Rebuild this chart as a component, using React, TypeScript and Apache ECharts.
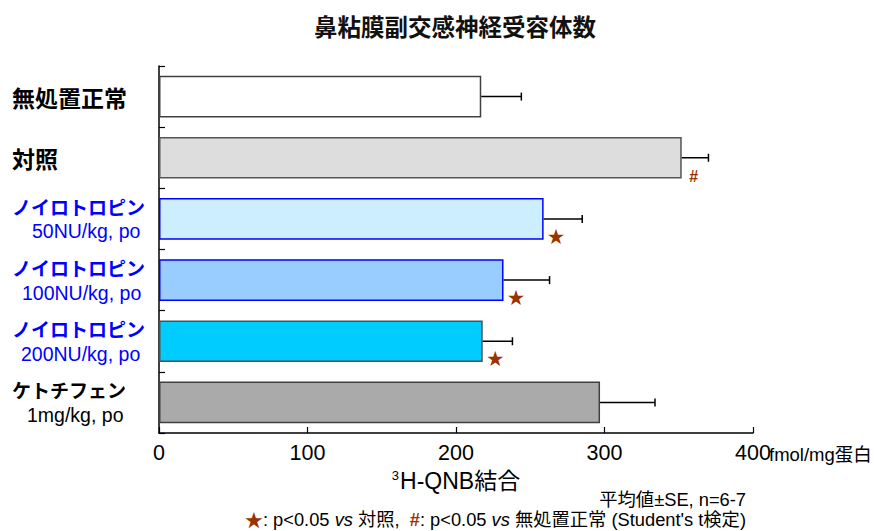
import React, { useEffect, useRef } from "react";
import * as echarts from "echarts";

const categories = ["無処置正常", "対照", "ノイロトロピン50", "ノイロトロピン100", "ノイロトロピン200", "ケトチフェン"];
const labelMain = ["無処置正常", "対照", "ノイロトロピン", "ノイロトロピン", "ノイロトロピン", "ケトチフェン"];
const labelSub = ["", "", "50NU/kg, po", "100NU/kg, po", "200NU/kg, po", "1mg/kg, po"];
const means = [217, 352, 259, 232, 218, 297];
const errors = [27, 18, 26, 31, 20, 37];
const sigMarks = ["", "#", "★", "★", "★", ""];
const xTicks = [0, 100, 200, 300, 400];

const fills = ["#ffffff", "#dddddd", "#cceeff", "#99ccff", "#00ccff", "#aaaaaa"];
const borders = ["#404040", "#555555", "#0000ff", "#0000ff", "#505050", "#404040"];
const labelColors = ["#000000", "#000000", "#0000ff", "#0000ff", "#0000ff", "#000000"];
const subPad = [0, 0, 20, 10, 9, 15];

const LAT = "'Liberation Sans', 'Noto Sans CJK JP', sans-serif";
const JP = "'Noto Sans CJK JP', 'Liberation Sans', sans-serif";
const BROWN = "#993300";
const FN = 18.3;

export default function App() {
  const ref = useRef<HTMLDivElement>(null);
  useEffect(() => {
    if (!ref.current) return;
    const chart = echarts.init(ref.current, null, { renderer: "svg" });
    const rich: any = {};
    labelMain.forEach((_, i) => {
      const kanji = i < 2;
      rich["m" + i] = {
        fontFamily: JP,
        fontSize: kanji ? 23 : 19,
        fontWeight: "bold",
        color: labelColors[i],
        lineHeight: 25,
      };
      rich["s" + i] = {
        fontFamily: LAT,
        fontSize: 19.5,
        color: labelColors[i],
        lineHeight: 25,
        padding: [0, 0, 0, subPad[i]],
      };
    });
    const option: any = {
      animation: false,
      grid: { left: 159, right: 121, top: 66, bottom: 98, containLabel: false },
      graphic: [
        {
          type: "text",
          x: 455,
          y: 26,
          style: {
            text: "鼻粘膜副交感神経受容体数",
            font: `bold 23.5px ${JP}`,
            fill: "#111",
            align: "center",
            verticalAlign: "middle",
          },
        },
        {
          type: "text",
          x: 769,
          y: 454,
          style: {
            text: "fmol/mg蛋白",
            font: `18.5px ${LAT}`,
            fill: "#000",
            align: "left",
            verticalAlign: "middle",
          },
        },
        {
          type: "text",
          x: 746,
          y: 499,
          style: {
            text: "平均値±SE, n=6-7",
            font: `${FN}px ${LAT}`,
            fill: "#000",
            align: "right",
            verticalAlign: "middle",
          },
        },
        {
          type: "text",
          x: 746,
          y: 519,
          style: {
            text:
              "{st|★}{t|: p<0.05 }{i|vs}{t| 対照,  }{h|#}{t|: p<0.05 }{i|vs}{t| 無処置正常 (Student's t検定)}",
            align: "right",
            verticalAlign: "middle",
            rich: {
              st: { fontFamily: JP, fontSize: FN, lineHeight: 19, fill: BROWN, color: BROWN },
              h: { fontFamily: LAT, fontSize: FN, lineHeight: 19, fontWeight: "bold", fill: BROWN, color: BROWN },
              t: { fontFamily: LAT, fontSize: FN, lineHeight: 19, fill: "#000", color: "#000" },
              i: { fontFamily: LAT, fontSize: FN, lineHeight: 19, fontStyle: "italic", fill: "#000", color: "#000" },
            },
          },
        },
      ],
      xAxis: {
        type: "value",
        min: 0,
        max: 400,
        interval: 100,
        name: "{s|3}{n|H-QNB結合}",
        nameLocation: "middle",
        nameGap: 36,
        nameTextStyle: {
          rich: {
            s: { fontFamily: LAT, fontSize: 13, color: "#000", verticalAlign: "top", padding: [0, 1, 9, 0] },
            n: { fontFamily: LAT, fontSize: 23, color: "#000" },
          },
        },
        axisLine: { show: true, lineStyle: { color: "#000", width: 1.5 } },
        axisTick: { show: true, inside: true, length: 6, lineStyle: { color: "#000", width: 1.2 } },
        splitLine: { show: false },
        axisLabel: {
          fontFamily: LAT,
          fontSize: 21.5,
          color: "#000",
          margin: 9,
          formatter: (v: number) => (xTicks.includes(v) ? String(v) : ""),
        },
      },
      yAxis: {
        type: "category",
        inverse: true,
        data: categories,
        axisLine: { show: true, lineStyle: { color: "#000", width: 1.5 } },
        axisTick: { show: true, inside: true, length: 6, lineStyle: { color: "#000", width: 1.2 } },
        axisLabel: {
          align: "left",
          margin: 147,
          formatter: (_v: string, i: number) =>
            labelSub[i] ? `{m${i}|${labelMain[i]}}\n{s${i}|${labelSub[i]}}` : `{m${i}|${labelMain[i]}}`,
          rich,
        },
      },
      series: [
        {
          type: "bar",
          barWidth: "68%",
          data: means.map((v, i) => ({
            value: v,
            itemStyle: { color: fills[i], borderColor: borders[i], borderWidth: 1.5 },
            label: {
              show: !!sigMarks[i],
              formatter: sigMarks[i],
              position: ["100%", "50%"],
              align: "center",
              verticalAlign: "middle",
              offset: sigMarks[i] === "#" ? [12, 19] : [12.5, 16.5],
              color: BROWN,
              fontFamily: sigMarks[i] === "#" ? LAT : JP,
              fontWeight: "bold",
              fontSize: sigMarks[i] === "#" ? 16 : 17,
            },
          })),
          z: 2,
        },
        {
          type: "custom",
          data: means.map((v, i) => [i, v, errors[i]]),
          encode: { x: [1, 2], y: 0 },
          z: 3,
          renderItem: (_p: any, api: any) => {
            const idx = api.value(0);
            const v = api.value(1);
            const e = api.value(2);
            const s = api.coord([v, idx]);
            const t = api.coord([v + e, idx]);
            return {
              type: "group",
              children: [
                { type: "line", shape: { x1: s[0], y1: s[1], x2: t[0], y2: t[1] }, style: { stroke: "#000", lineWidth: 1.5 } },
                { type: "line", shape: { x1: t[0], y1: t[1] - 4, x2: t[0], y2: t[1] + 4 }, style: { stroke: "#000", lineWidth: 1.5 } },
              ],
            };
          },
        },
      ],
    };
    chart.setOption(option);
    return () => chart.dispose();
  }, []);
  return <div ref={ref} style={{ position: "absolute", left: 0, top: 0, width: 874, height: 531 }} />;
}
